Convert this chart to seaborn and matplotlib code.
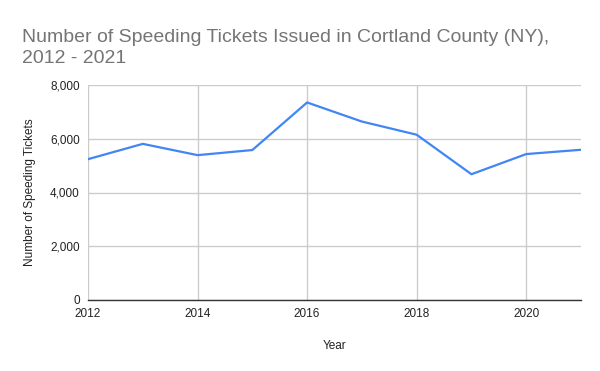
import numpy as np
import pandas as pd
import seaborn as sns
from matplotlib import pyplot as plt
from matplotlib.ticker import FuncFormatter

years = [2012, 2013, 2014, 2015, 2016, 2017, 2018, 2019, 2020, 2021]
tickets = [5240, 5810, 5390, 5580, 7350, 6640, 6150, 4680, 5430, 5590]

df = pd.DataFrame({"Year": years, "Tickets": tickets})

sns.set_theme(style="white")
plt.rcParams['font.family'] = ['Liberation Sans', 'DejaVu Sans']

fig = plt.figure(figsize=(6, 3.71), dpi=100)
ax = fig.add_axes([88 / 600, 71 / 371, 493 / 600, 215 / 371])

sns.lineplot(data=df, x="Year", y="Tickets", ax=ax, color="#4285f4", linewidth=1.6)

ax.set_xlim(2012, 2021)
ax.set_ylim(0, 8000)
ax.set_xticks([2012, 2014, 2016, 2018, 2020])
ax.set_yticks([0, 2000, 4000, 6000, 8000])
ax.yaxis.set_major_formatter(FuncFormatter(lambda v, p: f"{int(v):,}"))
ax.grid(True, color="#cccccc", linewidth=1)
ax.set_axisbelow(True)
for s in ["top", "right", "left"]:
    ax.spines[s].set_visible(False)
ax.spines["bottom"].set_color("#333333")
ax.spines["bottom"].set_linewidth(1)
ax.tick_params(axis="both", length=0, labelsize=8.5, colors="#222222", pad=6)

ax.set_xlabel("Year", fontsize=8.5, color="#222222", labelpad=14)
ax.set_ylabel("Number of Speeding Tickets", fontsize=8.5, color="#222222", labelpad=10)

fig.text(22 / 600, 1 - 48 / 371, "Number of Speeding Tickets Issued in Cortland County (NY),\n2012 - 2021",
         fontsize=14, color="#757575", va="center", ha="left", linespacing=1.3)

fig.savefig("out.png", dpi=100, facecolor="white")
